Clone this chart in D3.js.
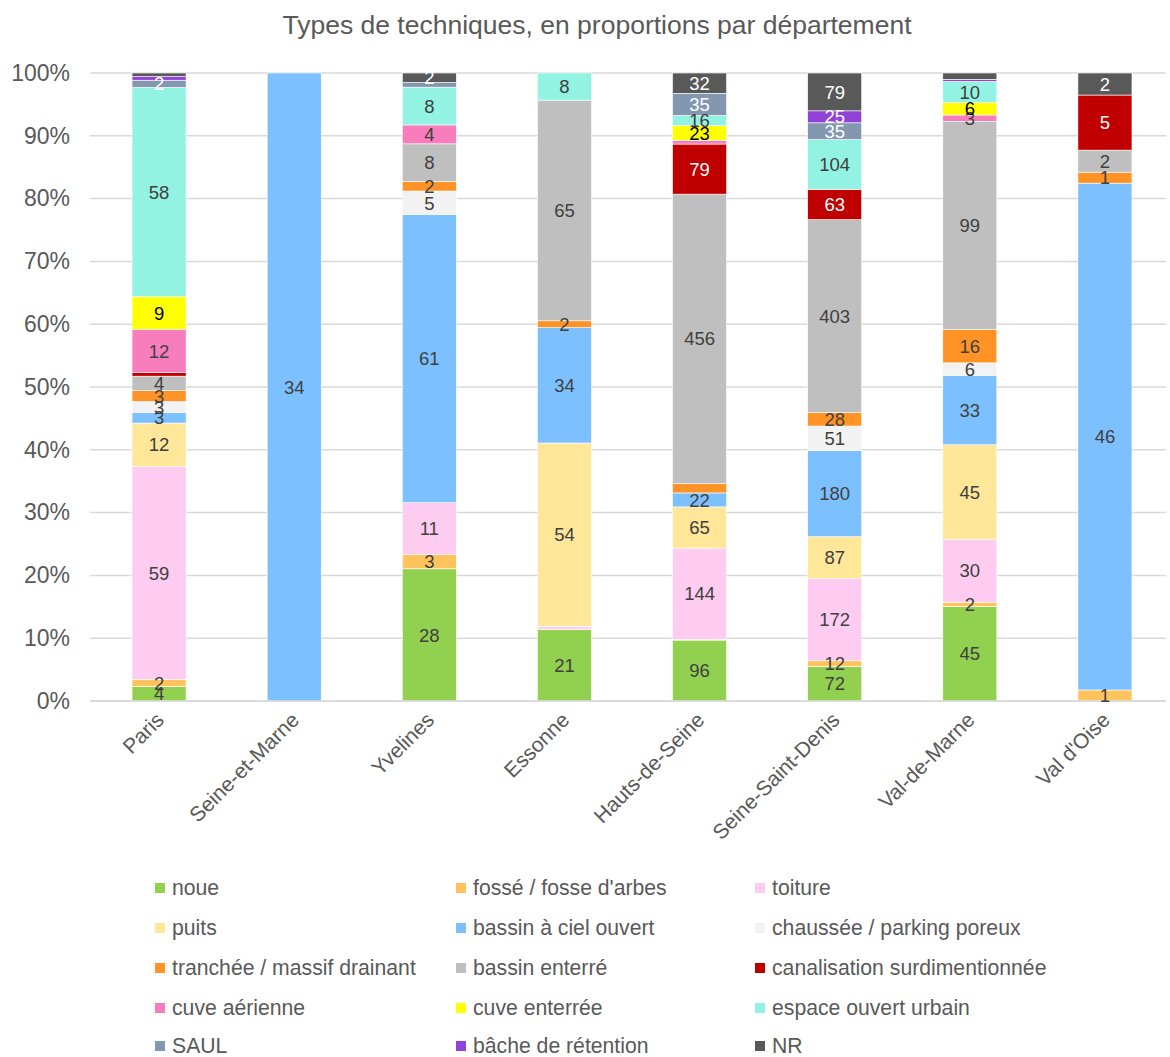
<!DOCTYPE html>
<html>
<head>
<meta charset="utf-8">
<script src="https://cdn.jsdelivr.net/npm/d3@7"></script>
<style>
  body { margin: 0; background: #fff; }
  svg { font-family: "Liberation Sans", Arial, sans-serif; }
</style>
</head>
<body>
<svg id="chart" width="1170" height="1057"></svg>
<script>
const title = "Types de techniques, en proportions par département";
const categories = ["Paris","Seine-et-Marne","Yvelines","Essonne","Hauts-de-Seine","Seine-Saint-Denis","Val-de-Marne","Val d'Oise"];
const seriesNames = ["noue","fossé / fosse d'arbes","toiture","puits","bassin à ciel ouvert","chaussée / parking poreux","tranchée / massif drainant","bassin enterré","canalisation surdimentionnée","cuve aérienne","cuve enterrée","espace ouvert urbain","SAUL","bâche de rétention","NR"];
const seriesColors = ["#92D050","#FFC35E","#FDCCF0","#FFE699","#7CC0FF","#F2F2F2","#FF9326","#BFBFBF","#C00000","#F77DBC","#FFFF00","#93F3E2","#8497B0","#9142D8","#595959"];
const labelColors = ["#404040","#404040","#404040","#404040","#404040","#404040","#404040","#404040","#FFFFFF","#404040","#000000","#404040","#FFFFFF","#FFFFFF","#FFFFFF"];

const noue            = [4, 0, 28, 21, 96, 72, 45, 0];
const fosse           = [2, 0, 3, 0, 1, 12, 2, 1];
const toiture         = [59, 0, 11, 1, 144, 172, 30, 0];
const puits           = [12, 0, 0, 54, 65, 87, 45, 0];
const bassinCiel      = [3, 34, 61, 34, 22, 180, 33, 46];
const chaussee        = [3, 0, 5, 0, 0, 51, 6, 0];
const tranchee        = [3, 0, 2, 2, 15, 28, 16, 1];
const bassinEnterre   = [4, 0, 8, 65, 456, 403, 99, 2];
const canalisation    = [1, 0, 0, 0, 79, 63, 0, 5];
const cuveAerienne    = [12, 0, 4, 0, 6, 0, 3, 0];
const cuveEnterree    = [9, 0, 0, 0, 23, 0, 6, 0];
const espaceOuvert    = [58, 0, 8, 8, 16, 104, 10, 0];
const saul            = [2, 0, 1, 0, 35, 35, 0, 0];
const bache           = [1, 0, 0, 0, 0, 25, 1, 0];
const nr              = [1, 0, 2, 0, 32, 79, 3, 2];
const seriesValues = [noue, fosse, toiture, puits, bassinCiel, chaussee, tranchee, bassinEnterre, canalisation, cuveAerienne, cuveEnterree, espaceOuvert, saul, bache, nr];

// labels not displayed in the original (category, series)
const hiddenLabels = [["Paris","canalisation surdimentionnée"],["Paris","bâche de rétention"],["Paris","NR"],["Essonne","toiture"],["Hauts-de-Seine","fossé / fosse d'arbes"],["Hauts-de-Seine","tranchée / massif drainant"],["Hauts-de-Seine","cuve aérienne"],["Yvelines","SAUL"],["Val-de-Marne","bâche de rétention"],["Val-de-Marne","NR"]];
const yTicks = [0, 0.1, 0.2, 0.3, 0.4, 0.5, 0.6, 0.7, 0.8, 0.9, 1];

const svg = d3.select("#chart");
const textColor = "#595959";

svg.append("text").attr("x", 597).attr("y", 34).attr("text-anchor", "middle")
  .attr("font-size", 26.5).attr("fill", textColor).text(title);

const x = d3.scaleBand().domain(categories).range([91.5, 1172.5]).paddingInner(0.6).paddingOuter(0.3);
const y = d3.scaleLinear().domain([0, 1]).range([701, 73]);

// gridlines
svg.append("g").selectAll("line").data(yTicks).join("line")
  .attr("x1", 90).attr("x2", 1166)
  .attr("y1", d => y(d)).attr("y2", d => y(d))
  .attr("stroke", "#D9D9D9").attr("stroke-width", 1.5);

// y axis labels
const yAxis = d3.axisLeft(y).tickValues(yTicks).tickFormat(d3.format(".0%")).tickSize(0).tickPadding(0);
const gy = svg.append("g").attr("transform", "translate(70,0)").call(yAxis);
gy.select(".domain").remove();
gy.selectAll("text").attr("font-size", 23).attr("fill", textColor).attr("font-family", "Liberation Sans, Arial, sans-serif");

// data stacking
const rows = categories.map((c, i) => {
  const r = { category: c };
  seriesNames.forEach((s, j) => r[s] = seriesValues[j][i]);
  return r;
});
const stack = d3.stack().keys(seriesNames).offset(d3.stackOffsetExpand);
const stacked = stack(rows);

const gBars = svg.append("g");
stacked.forEach((layer, j) => {
  gBars.append("g").selectAll("rect").data(layer).join("rect")
    .attr("x", d => x(d.data.category))
    .attr("width", x.bandwidth())
    .attr("y", d => y(d[1]))
    .attr("height", d => Math.max(0, y(d[0]) - y(d[1])))
    .attr("fill", seriesColors[j])
    .attr("stroke", "#ffffff").attr("stroke-width", 0.6);
});

// baseline
svg.append("line").attr("x1", 90).attr("x2", 1166).attr("y1", y(0)).attr("y2", y(0))
  .attr("stroke", "#D9D9D9").attr("stroke-width", 1.5);

// labels
const isHidden = (c, s) => hiddenLabels.some(h => h[0] === c && h[1] === s);
const gLabels = svg.append("g");
stacked.forEach((layer, j) => {
  const s = seriesNames[j];
  gLabels.append("g").selectAll("text")
    .data(layer.filter(d => d.data[s] > 0 && !isHidden(d.data.category, s)))
    .join("text")
    .attr("x", d => x(d.data.category) + x.bandwidth() / 2)
    .attr("y", d => (y(d[0]) + y(d[1])) / 2)
    .attr("dy", "0.36em")
    .attr("text-anchor", "middle")
    .attr("font-size", 18.5)
    .attr("fill", labelColors[j])
    .text(d => d.data[s]);
});

// x axis labels
const gx = svg.append("g");
categories.forEach(c => {
  const cx = x(c) + x.bandwidth() / 2;
  gx.append("text")
    .attr("transform", `translate(${cx + 1},${716}) rotate(-45)`)
    .attr("text-anchor", "end")
    .attr("dy", "0.35em")
    .attr("font-size", 21)
    .attr("fill", textColor)
    .text(c);
});

// legend
const legendCols = [160, 461, 760];
const legendRows = [888, 928, 968, 1008, 1046];
const gLeg = svg.append("g");
seriesNames.forEach((s, i) => {
  const col = i % 3, row = Math.floor(i / 3);
  const lx = legendCols[col], ly = legendRows[row];
  gLeg.append("rect").attr("x", lx - 5).attr("y", ly - 5).attr("width", 10).attr("height", 10).attr("fill", seriesColors[i]);
  gLeg.append("text").attr("x", lx + 12).attr("y", ly).attr("dy", "0.35em")
    .attr("font-size", 21.2).attr("fill", textColor).text(s);
});
</script>
</body>
</html>
